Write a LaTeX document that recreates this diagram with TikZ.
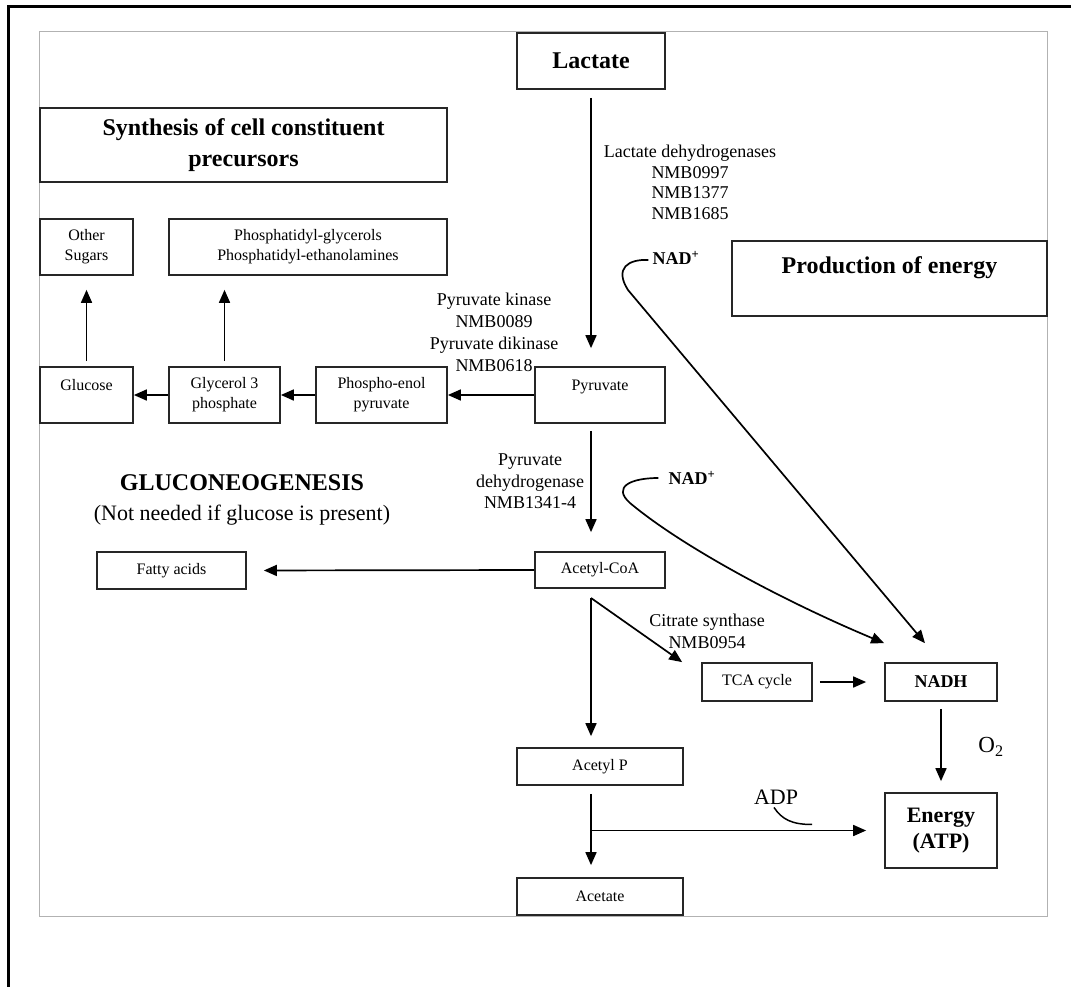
\documentclass[tikz,border=0pt]{standalone}
\usepackage{fontspec}
\setmainfont{Liberation Serif}
\usetikzlibrary{arrows.meta,calc}
\begin{document}
\begin{tikzpicture}[x=1pt,y=-1pt,
  box/.style={draw=black!85, line width=1.7pt, inner sep=0pt, align=center, font=\fontsize{16}{20}\selectfont},
  sz/.style 2 args={minimum width=#1pt, minimum height=#2pt},
  hbox/.style={box, font=\bfseries\fontsize{24}{31}\selectfont},
  lbl/.style={align=center, inner sep=1pt, font=\fontsize{18}{21.5}\selectfont},
  nad/.style={inner sep=1pt, font=\bfseries\fontsize{18}{20}\selectfont},
  arr/.style={line width=1.7pt, -{Triangle[length=13pt,width=11pt]}},
  plain/.style={line width=1.5pt}
]
\useasboundingbox (0,0) rectangle (1071,987);
% frames
\draw[black!30, line width=1pt] (39,32) rectangle (1047,916);
\draw[line width=3pt] (8,987) -- (8,7) -- (1071,7);

% boxes
\node[hbox, sz={148}{56}] (lac) at (591,61) {Lactate};
\node[hbox, sz={407}{74}] (syn) at (243.5,145) {Synthesis of cell constituent\\precursors};
\node[hbox, sz={315}{75}, font=\bfseries\fontsize{24}{27}\selectfont] (prod) at (889.5,278.5) {Production of energy\\\mbox{}};
\node[box, sz={93}{56}] (oth) at (86.5,247) {Other\\Sugars};
\node[box, sz={278}{56}] (phos) at (308,247) {Phosphatidyl-glycerols\\Phosphatidyl-ethanolamines};
\node[box, sz={93}{56}] (glu) at (86.5,395) {Glucose\\\mbox{}};
\node[box, sz={111}{56}] (gly) at (224.5,395) {Glycerol 3\\phosphate};
\node[box, sz={131}{56}] (pep) at (381.5,395) {Phospho-enol\\pyruvate};
\node[box, sz={130}{56}] (pyr) at (600,395) {Pyruvate\\\mbox{}};
\node[box, sz={149}{37}] (fat) at (171.5,570.5) {Fatty acids};
\node[box, sz={130}{36}] (acoa) at (600,570) {Acetyl-CoA};
\node[box, sz={110}{38}] (tca) at (757,682) {TCA cycle};
\node[box, sz={112}{38}, font=\bfseries\fontsize{18}{20}\selectfont] (nadh) at (941,682) {NADH};
\node[box, sz={166}{37}] (acp) at (600,766.5) {Acetyl P};
\node[box, sz={166}{37}] (ace) at (600,896.5) {Acetate};
\node[box, sz={112}{75}, font=\bfseries\fontsize{22}{26}\selectfont] (en) at (941,830.5) {Energy\\(ATP)};

% labels
\node[lbl, font=\fontsize{18}{20.5}\selectfont] (ldh) at (690,182.5) {Lactate dehydrogenases\\NMB0997\\NMB1377\\NMB1685};
\node[lbl, font=\fontsize{18}{22}\selectfont] (pk) at (494,332) {Pyruvate kinase\\NMB0089\\Pyruvate dikinase\\NMB0618};
\node[lbl] (pdh) at (530,481.5) {Pyruvate\\dehydrogenase\\NMB1341-4};
\node[lbl, font=\fontsize{18}{22}\selectfont] (cs) at (707,631) {Citrate synthase\\NMB0954};
\node[align=center, inner sep=0pt, font=\fontsize{22}{30}\selectfont] (glc) at (242,500) {{\bfseries\fontsize{24}{30}\selectfont GLUCONEOGENESIS}\\(Not needed if glucose is present)};
\node[nad] (nad1) at (676,258) {NAD\textsuperscript{+}};
\node[nad] (nad2) at (692,478) {NAD\textsuperscript{+}};
\node[inner sep=0pt, font=\fontsize{23}{26}\selectfont] (o2) at (991,747) {O\textsubscript{2}};
\node[inner sep=0pt, font=\fontsize{22}{26}\selectfont] (adp) at (776,797) {ADP};

% helper coordinates
\coordinate (sp) at (591,0);
\coordinate (br) at (591,598);
\coordinate (jn) at (591,830.5);
\coordinate (k1) at (628,290);
\coordinate (k2) at (630,503);

% main spine
\draw[arr, shorten <=8pt, shorten >=18pt] (lac.south -| sp) -- (pyr.north -| sp);
\draw[arr, shorten <=7pt, shorten >=19pt] (pyr.south -| sp) -- (acoa.north -| sp);
\draw[arr, shorten >=11pt] (br) -- (acp.north -| br);
\draw[arr, shorten <=8pt, shorten >=12pt] (acp.south -| sp) -- (ace.north -| sp);
\draw[arr, shorten >=18pt] (jn) -- (en.west);
\draw[plain] ($(adp.south)+(-2,3)$) .. controls +(8,12) and +(-20,0) .. ($(adp.south)+(36,20)$);

% gluconeogenesis row
\draw[arr] (pyr.west) -- (pep.east);
\draw[arr] (pep.west) -- (gly.east);
\draw[arr] (gly.west) -- (glu.east);
\draw[arr, shorten <=5pt, shorten >=14pt] (glu.north) -- (oth.south);
\draw[arr, shorten <=5pt, shorten >=14pt] (gly.north) -- (gly.north |- phos.south);
\draw[arr, shorten >=17pt] (acoa.west) -- (fat.east);

% energy side
\draw[arr] (br) -- ($(tca.north west)+(-19,0)$);
\draw[arr, shorten <=7pt, shorten >=18pt] (tca.east) -- (nadh.west);
\draw[arr, shorten <=7pt, shorten >=11pt] (nadh.south) -- (en.north);
\draw[arr] ($(nad1.west)+(-3,2)$) .. controls +(-20,-1) and +(-14,-22) .. (k1) -- ($(nadh.north)+(-16,-19)$);
\draw[arr] ($(nad2.west)+(-9,0)$) .. controls +(-28,0) and +(-18,-16) .. (k2) .. controls +(50,42) and +(-105,-44) .. ($(nadh.north west)+(0,-19)$);
\end{tikzpicture}
\end{document}
